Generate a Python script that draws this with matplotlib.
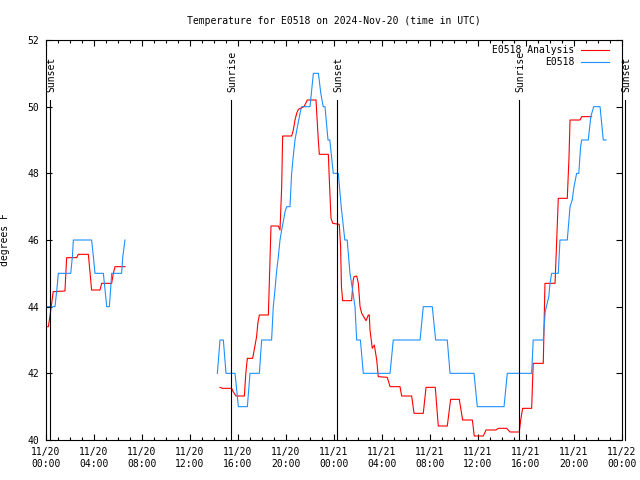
import numpy as np
import matplotlib
matplotlib.use("Agg")
import matplotlib.pyplot as plt
from matplotlib.ticker import MultipleLocator, FuncFormatter
import datetime as dt

plt.rcParams['font.family'] = ['DejaVu Sans Mono', 'DejaVu Sans']
FS = 7

title = "Temperature for E0518 on 2024-Nov-20 (time in UTC)"
base = dt.datetime(2024, 11, 20, 0, 0)

# hours since 2024-11-20 00:00 UTC; NaN separates data gaps
obs_hours = [0.06, 0.75, 0.9, 1.03, 2.06, 2.2, 2.28, 3.8, 3.95, 4.08, 4.78, 4.92, 5.06, 5.28, 5.4, 5.47,
             6.3, 6.4, 6.58, np.nan,
             14.28, 14.5, 14.78, 15.0, 15.75, 16.03, 16.78, 17.0, 17.78, 17.97, 18.8, 18.94, 19.08, 19.2,
             19.36, 19.5, 19.64, 19.8, 19.92, 20.06, 20.33, 20.47, 20.6, 20.75, 20.9, 21.17, 21.3, 22.0,
             22.28, 22.7, 22.9, 23.1, 23.25, 23.5, 23.65, 23.94, 24.36, 24.6, 24.9, 25.1, 25.33, 25.55,
             25.75, 25.89, 26.2, 26.44, 28.67, 28.94, 31.17, 31.44, 32.19, 32.47, 33.44, 33.67, 35.67,
             35.94, 38.17, 38.44, 40.47, 40.6, 41.44, 41.6, 41.7, 41.9, 42.0, 42.14, 42.69, 42.83, 43.44,
             43.67, 43.85, 44.0, 44.22, 44.4, 44.55, 44.64, 45.19, 45.4, 45.64, 46.17, 46.44, 46.67]
obs_vals = [44.0, 44.0, 44.5, 45.0, 45.0, 45.5, 46.0, 46.0, 45.5, 45.0, 45.0, 44.5, 44.0, 44.0, 44.6, 45.0,
            45.0, 45.5, 46.0, np.nan,
            42.0, 43.0, 43.0, 42.0, 42.0, 41.0, 41.0, 42.0, 42.0, 43.0, 43.0, 44.0, 44.5, 45.0,
            45.5, 46.0, 46.3, 46.6, 46.85, 47.0, 47.0, 48.0, 48.5, 49.0, 49.3, 49.8, 50.0, 50.0,
            51.0, 51.0, 50.4, 50.0, 50.0, 49.0, 49.0, 48.0, 48.0, 47.0, 46.0, 46.0, 45.0, 44.5,
            44.0, 43.0, 43.0, 42.0, 42.0, 43.0, 43.0, 44.0, 44.0, 43.0, 43.0, 42.0, 42.0,
            41.0, 41.0, 42.0, 42.0, 43.0, 43.0, 43.85, 44.0, 44.3, 44.7, 45.0, 45.0, 46.0, 46.0,
            47.0, 47.2, 47.6, 48.0, 48.0, 48.8, 49.0, 49.0, 49.7, 50.0, 50.0, 49.0, 49.0]

ana_hours = [0.06, 0.2, 0.4, 0.6, 1.58, 1.72, 2.56, 2.69, 3.53, 3.7, 3.8, 4.5, 4.64, 5.47, 5.61, 5.75, 6.58,
             np.nan,
             14.5, 14.7, 15.47, 15.6, 15.83, 16.53, 16.65, 16.78, 17.22, 17.4, 17.55, 17.65, 17.78, 18.53,
             18.65, 18.75, 19.36, 19.5, 19.64, 19.72, 20.47, 20.61, 20.75, 20.89, 21.03, 21.5, 21.78, 22.5,
             22.69, 22.78, 23.53, 23.6, 23.75, 23.9, 24.44, 24.55, 24.62, 24.72, 25.47, 25.6, 25.67, 25.89,
             26.03, 26.17, 26.31, 26.67, 26.86, 26.94, 27.0, 27.19, 27.36, 27.56, 27.69, 28.44, 28.67,
             29.5, 29.64, 30.47, 30.67, 31.44, 31.67, 32.44, 32.69, 33.44, 33.72, 34.44, 34.72, 35.53,
             35.69, 36.44, 36.67, 37.5, 37.69, 38.39, 38.67, 39.44, 39.56, 39.72, 40.47, 40.6, 41.44,
             41.58, 42.42, 42.56, 42.69, 43.44, 43.58, 43.67, 44.5, 44.64, 45.47]
ana_vals = [43.4, 43.4, 43.9, 44.45, 44.47, 45.47, 45.47, 45.57, 45.57, 44.9, 44.5, 44.5, 44.7, 44.7, 45.0, 45.2, 45.2,
            np.nan,
            41.58, 41.55, 41.55, 41.45, 41.32, 41.32, 42.0, 42.45, 42.45, 42.8, 43.1, 43.5, 43.75, 43.75,
            45.2, 46.42, 46.42, 46.3, 47.6, 49.12, 49.12, 49.3, 49.6, 49.8, 49.92, 50.0, 50.2, 50.2,
            49.0, 48.57, 48.57, 47.9, 46.65, 46.5, 46.47, 45.8, 44.6, 44.18, 44.18, 44.8, 44.9, 44.92,
            44.7, 44.0, 43.8, 43.58, 43.75, 43.75, 43.3, 42.75, 42.85, 42.4, 41.9, 41.88, 41.6,
            41.6, 41.32, 41.32, 40.8, 40.8, 41.58, 41.58, 40.42, 40.42, 41.22, 41.22, 40.6, 40.6,
            40.12, 40.12, 40.3, 40.3, 40.35, 40.35, 40.24, 40.24, 40.6, 40.95, 40.95, 42.3, 42.3,
            44.7, 44.7, 46.0, 47.25, 47.25, 48.45, 49.6, 49.6, 49.7, 49.7]

sun_hours = [0.33, 15.44, 24.28, 39.44, 48.25]
sun_labels = ["Sunset", "Sunrise", "Sunset", "Sunrise", "Sunset"]

y_ticks = [40, 42, 44, 46, 48, 50, 52]

fig = plt.figure(figsize=(6.4, 4.8), dpi=100)
ax = fig.add_axes([46/640, 40/480, 576/640, 400/480])

ax.plot(ana_hours, ana_vals, color='#ff0000', lw=0.8)
ax.plot(obs_hours, obs_vals, color='#1e90ff', lw=0.8)

ax.set_xlim(0, 48)
ax.set_ylim(40, 52)

for h, lab in zip(sun_hours, sun_labels):
    ax.plot([h, h], [0, 0.85], color='black', lw=0.8,
            transform=ax.get_xaxis_transform(), clip_on=False)
    ax.text(h + 0.1, 0.87, lab, rotation=90, ha='center', va='bottom', fontsize=FS,
            transform=ax.get_xaxis_transform(), clip_on=False)

ax.xaxis.set_major_locator(MultipleLocator(4))
ax.xaxis.set_minor_locator(MultipleLocator(1))
ax.xaxis.set_major_formatter(FuncFormatter(
    lambda v, p: (base + dt.timedelta(hours=v)).strftime("%m/%d\n%H:%M")))
ax.set_yticks(y_ticks)
ax.tick_params(which='both', direction='in', top=True, right=True, labelsize=FS, width=0.8)
ax.tick_params(which='major', length=4)
ax.tick_params(which='minor', length=2)
ax.tick_params(axis='x', pad=5)
ax.tick_params(axis='y', pad=5)
for s in ax.spines.values():
    s.set_linewidth(0.8)

ax.set_ylabel("degrees F", fontsize=FS)
ax.yaxis.set_label_coords(-0.0625, 0.5)
fig.text((46 + 288) / 640, 1 - 21 / 480, title, ha='center', va='center', fontsize=FS)

# legend (text right-aligned, sample line on the right)
for i, (lab, col) in enumerate([("E0518 Analysis", '#ff0000'), ("E0518", '#1e90ff')]):
    yy = 0.975 - i * 0.031
    ax.text(0.9167, yy, lab, ha='right', va='center', fontsize=FS, transform=ax.transAxes)
    ax.plot([0.928, 0.977], [yy, yy], color=col, lw=0.8, transform=ax.transAxes)

fig.savefig("out.png", dpi=100)
